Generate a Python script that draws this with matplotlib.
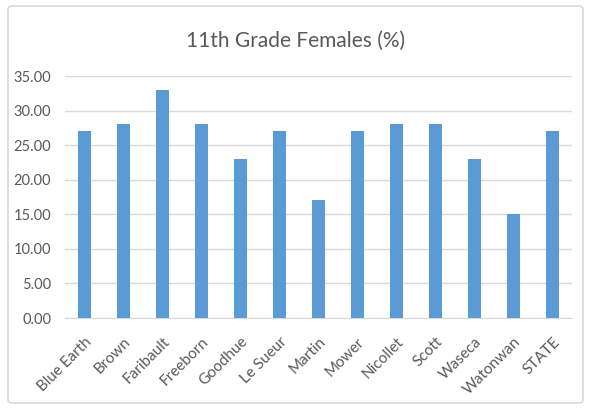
import matplotlib.pyplot as plt
import numpy as np
from matplotlib.patches import FancyBboxPatch

counties = ["Blue Earth", "Brown", "Faribault", "Freeborn", "Goodhue", "Le Sueur",
            "Martin", "Mower", "Nicollet", "Scott", "Waseca", "Watonwan", "STATE"]
values = [27, 28, 33, 28, 23, 27, 17, 27, 28, 28, 23, 15, 27]
yticks = [0, 5, 10, 15, 20, 25, 30, 35]

plt.rcParams['font.family'] = ['Lato', 'DejaVu Sans']

fig = plt.figure(figsize=(5.91, 4.09), dpi=100)
# chart border like Excel
fig.patches.append(FancyBboxPatch((8 / 591, 6 / 409), 575 / 591, 397 / 409,
                                  boxstyle="round,pad=0,rounding_size=0.008",
                                  transform=fig.transFigure, facecolor="white",
                                  edgecolor="#D9D9D9", linewidth=1.2, zorder=-1))

ax = fig.add_axes([65 / 591, 1 - 318 / 409, (572 - 65) / 591, (318 - 76) / 409])
ax.patch.set_alpha(0)
x = np.arange(len(counties))
ax.bar(x, values, width=0.31, color="#5B9BD5", zorder=3)

ax.set_xlim(-0.5, len(counties) - 0.5)
ax.set_ylim(0, 35)
ax.set_yticks(yticks)
ax.set_yticklabels([f"{v:.2f}" for v in yticks])
ax.set_xticks(x)
ax.set_xticklabels(counties, rotation=45, ha="right", rotation_mode="anchor")
ax.tick_params(axis="y", length=0, colors="#595959", labelsize=10.5, pad=10)
ax.tick_params(axis="x", length=0, colors="#595959", labelsize=11, pad=12)
ax.yaxis.grid(True, color="#D9D9D9", linewidth=1, zorder=0)
for s in ["top", "right", "left"]:
    ax.spines[s].set_visible(False)
ax.spines["bottom"].set_color("#D9D9D9")

fig.text(0.5, 1 - 41 / 409, "11th Grade Females (%)", ha="center", va="center",
         fontsize=15, color="#595959")

fig.savefig("out.png", dpi=100)
